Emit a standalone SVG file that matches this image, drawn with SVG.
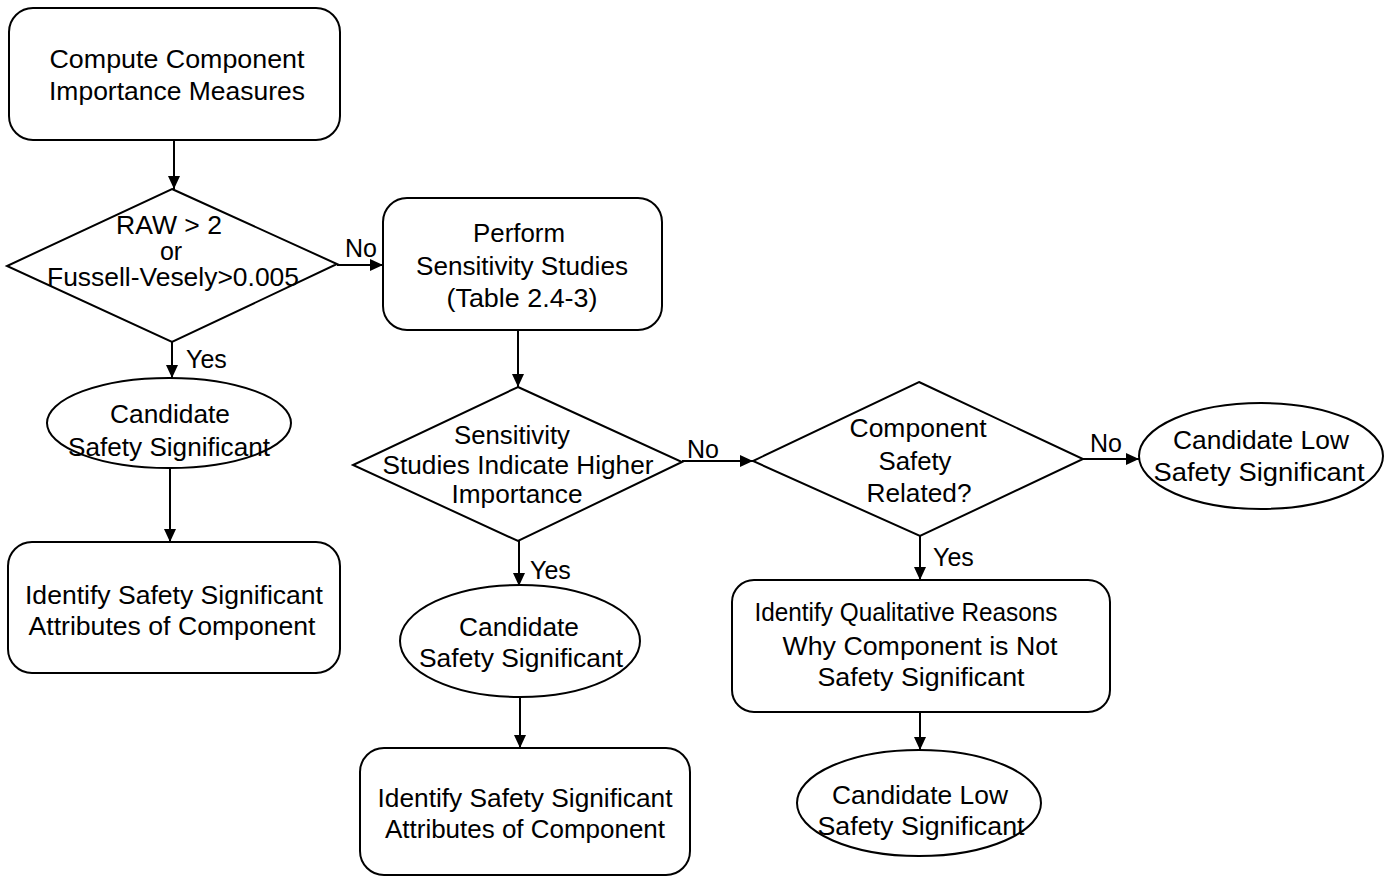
<svg xmlns="http://www.w3.org/2000/svg" width="1394" height="878" viewBox="0 0 1394 878">
<defs>
<marker id="ah" markerUnits="userSpaceOnUse" markerWidth="14" markerHeight="14" refX="13" refY="6" orient="auto">
<path d="M0,0 L13,6 L0,12 z" fill="#000"/>
</marker>
<style>
.s{fill:#fff;stroke:#000;stroke-width:2}
.t{font-family:"Liberation Sans",Arial,sans-serif;font-size:25px;fill:#000;text-anchor:middle}
.l{font-family:"Liberation Sans",Arial,sans-serif;font-size:25px;fill:#000}
.c{stroke:#000;stroke-width:2;fill:none;marker-end:url(#ah)}
</style>
</defs>
<rect width="1394" height="878" fill="#fff"/>
<g id="connectors">
<line class="c" x1="174" y1="140" x2="174" y2="189"/>
<line class="c" x1="337" y1="265" x2="383" y2="265"/>
<line class="c" x1="172" y1="342" x2="172" y2="378"/>
<line class="c" x1="170" y1="468" x2="170" y2="542"/>
<line class="c" x1="518" y1="331" x2="518" y2="387"/>
<line class="c" x1="519" y1="541" x2="519" y2="586"/>
<line class="c" x1="520" y1="697" x2="520" y2="748"/>
<line class="c" x1="682" y1="461" x2="753" y2="461"/>
<line class="c" x1="1083" y1="459" x2="1139" y2="459"/>
<line class="c" x1="920" y1="536" x2="920" y2="580"/>
<line class="c" x1="920" y1="712" x2="920" y2="750"/>
<text class="l" x="345" y="257">No</text>
<text class="l" x="186" y="368">Yes</text>
<text class="l" x="687" y="458">No</text>
<text class="l" x="530" y="579">Yes</text>
<text class="l" x="1090" y="452">No</text>
<text class="l" x="933" y="566">Yes</text>
</g>
<g id="n1">
<rect class="s" x="9" y="8" width="331" height="132" rx="24"/>
<text class="t" x="177" y="68" textLength="255" lengthAdjust="spacingAndGlyphs">Compute Component</text>
<text class="t" x="177" y="100" textLength="256" lengthAdjust="spacingAndGlyphs">Importance Measures</text>
</g>
<g id="d1">
<polygon class="s" points="172,189 337,264 172,342 7,266"/>
<text class="t" x="169" y="234" textLength="106" lengthAdjust="spacingAndGlyphs">RAW &gt; 2</text>
<text class="t" x="171" y="260">or</text>
<text class="t" x="173" y="286" textLength="252" lengthAdjust="spacingAndGlyphs">Fussell-Vesely&gt;0.005</text>
</g>
<g id="e1">
<ellipse class="s" cx="169" cy="423" rx="122" ry="45"/>
<text class="t" x="170" y="423" textLength="120" lengthAdjust="spacingAndGlyphs">Candidate</text>
<text class="t" x="169" y="456" textLength="202" lengthAdjust="spacingAndGlyphs">Safety Significant</text>
</g>
<g id="n6">
<rect class="s" x="8" y="542" width="332" height="131" rx="24"/>
<text class="t" x="174" y="604" textLength="298" lengthAdjust="spacingAndGlyphs">Identify Safety Significant</text>
<text class="t" x="172" y="635" textLength="287" lengthAdjust="spacingAndGlyphs">Attributes of Component</text>
</g>
<g id="n2">
<rect class="s" x="383" y="198" width="279" height="132" rx="24"/>
<text class="t" x="519" y="242" textLength="92" lengthAdjust="spacingAndGlyphs">Perform</text>
<text class="t" x="522" y="275" textLength="212" lengthAdjust="spacingAndGlyphs">Sensitivity Studies</text>
<text class="t" x="522" y="307" textLength="151" lengthAdjust="spacingAndGlyphs">(Table 2.4-3)</text>
</g>
<g id="d2">
<polygon class="s" points="518,387 682,462 518,541 353,465"/>
<text class="t" x="512" y="444" textLength="116" lengthAdjust="spacingAndGlyphs">Sensitivity</text>
<text class="t" x="518" y="474" textLength="271" lengthAdjust="spacingAndGlyphs">Studies Indicate Higher</text>
<text class="t" x="517" y="503" textLength="131" lengthAdjust="spacingAndGlyphs">Importance</text>
</g>
<g id="e2">
<ellipse class="s" cx="520" cy="641" rx="120" ry="56"/>
<text class="t" x="519" y="636" textLength="120" lengthAdjust="spacingAndGlyphs">Candidate</text>
<text class="t" x="521" y="667" textLength="204" lengthAdjust="spacingAndGlyphs">Safety Significant</text>
</g>
<g id="n5">
<rect class="s" x="360" y="748" width="330" height="127" rx="24"/>
<text class="t" x="525" y="807" textLength="295" lengthAdjust="spacingAndGlyphs">Identify Safety Significant</text>
<text class="t" x="525" y="838" textLength="280" lengthAdjust="spacingAndGlyphs">Attributes of Component</text>
</g>
<g id="d3">
<polygon class="s" points="919,382 1083,459 920,536 753,461"/>
<text class="t" x="918" y="437" textLength="137" lengthAdjust="spacingAndGlyphs">Component</text>
<text class="t" x="915" y="470" textLength="73" lengthAdjust="spacingAndGlyphs">Safety</text>
<text class="t" x="919" y="502" textLength="105" lengthAdjust="spacingAndGlyphs">Related?</text>
</g>
<g id="e3">
<ellipse class="s" cx="1261" cy="456" rx="122" ry="53"/>
<text class="t" x="1261" y="449" textLength="176" lengthAdjust="spacingAndGlyphs">Candidate Low</text>
<text class="t" x="1259" y="481" textLength="211" lengthAdjust="spacingAndGlyphs">Safety Significant</text>
</g>
<g id="n4">
<rect class="s" x="732" y="580" width="378" height="132" rx="22"/>
<text class="t" x="906" y="621" textLength="303" lengthAdjust="spacingAndGlyphs">Identify Qualitative Reasons</text>
<text class="t" x="920" y="655" textLength="275" lengthAdjust="spacingAndGlyphs">Why Component is Not</text>
<text class="t" x="921" y="686" textLength="207" lengthAdjust="spacingAndGlyphs">Safety Significant</text>
</g>
<g id="e4">
<ellipse class="s" cx="919" cy="803" rx="122" ry="53"/>
<text class="t" x="920" y="804" textLength="176" lengthAdjust="spacingAndGlyphs">Candidate Low</text>
<text class="t" x="921" y="835" textLength="207" lengthAdjust="spacingAndGlyphs">Safety Significant</text>
</g>
</svg>
